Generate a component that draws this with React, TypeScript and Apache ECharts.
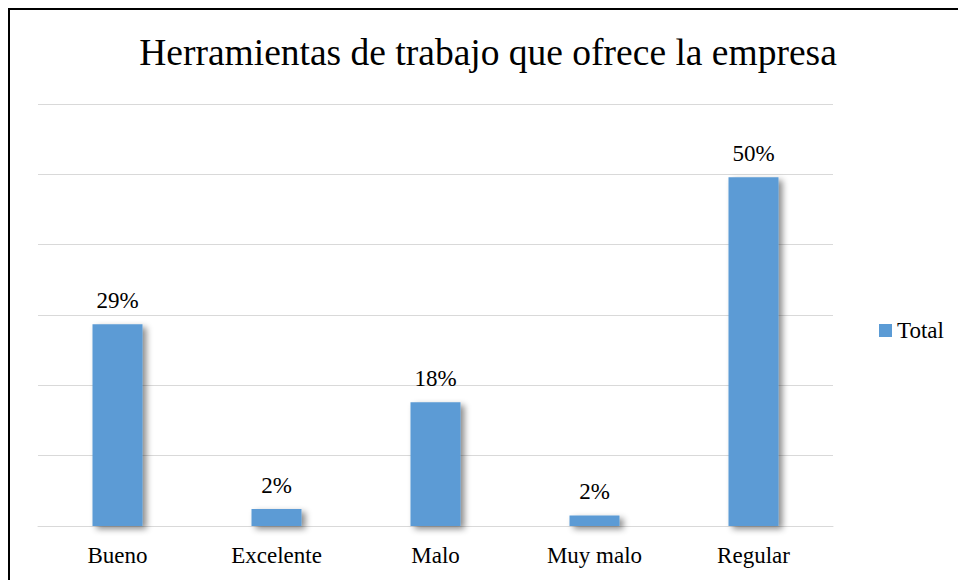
import React, { useEffect, useRef } from "react";
import * as echarts from "echarts";

const categories = ["Bueno", "Excelente", "Malo", "Muy malo", "Regular"];
const totalValues = [28.7, 2.4, 17.6, 1.5, 49.6];
const seriesName = "Total";
const titleText = "Herramientas de trabajo que ofrece la empresa";

const FONT = "Liberation Serif";

export default function App() {
  const ref = useRef<HTMLDivElement>(null);
  useEffect(() => {
    if (!ref.current) return;
    const chart = echarts.init(ref.current, null, { renderer: "svg" });
    chart.setOption({
      animation: false,
      backgroundColor: "transparent",
      textStyle: { fontFamily: FONT },
      graphic: [
        {
          type: "text",
          x: 488,
          y: 52,
          style: {
            text: titleText,
            fontFamily: FONT,
            fontSize: 37.5,
            fill: "#000",
            textAlign: "center",
            textVerticalAlign: "middle",
          },
        },
      ],
      legend: {
        data: [seriesName],
        left: 874,
        top: 314,
        icon: "rect",
        itemWidth: 13,
        itemHeight: 13,
        itemGap: 5,
        textStyle: { fontFamily: FONT, fontSize: 23, color: "#000" },
      },
      grid: { left: 38, right: 125, top: 104, bottom: 54, containLabel: false },
      xAxis: {
        type: "category",
        data: categories,
        axisLine: { lineStyle: { color: "#d9d9d9", width: 1 } },
        axisTick: { show: false },
        axisLabel: {
          fontFamily: FONT,
          fontSize: 23,
          color: "#000",
          margin: 18,
          interval: 0,
        },
      },
      yAxis: {
        type: "value",
        min: 0,
        max: 60,
        interval: 10,
        axisLabel: { show: false },
        axisLine: { show: false },
        axisTick: { show: false },
        splitLine: { lineStyle: { color: "#d9d9d9", width: 1 } },
      },
      series: [
        {
          name: seriesName,
          type: "bar",
          data: totalValues,
          barWidth: 50,
          itemStyle: {
            color: "#5b9bd5",
            shadowColor: "rgba(0,0,0,0.45)",
            shadowBlur: 6,
            shadowOffsetX: 4,
            shadowOffsetY: 3,
          },
          label: {
            show: true,
            position: "top",
            distance: 12,
            fontFamily: FONT,
            fontSize: 23,
            color: "#000",
            formatter: (p: any) => `${Math.round(p.value)}%`,
          },
        },
      ],
    });
    return () => chart.dispose();
  }, []);

  return (
    <div
      style={{
        position: "fixed",
        left: 0,
        top: 0,
        width: 958,
        height: 580,
        overflow: "hidden",
        background: "#fff",
      }}
    >
      <style>{`.serif-chart svg text { font-family: "Liberation Serif", "Times New Roman", serif !important; }`}</style>
      <div
        style={{
          position: "absolute",
          left: 8,
          top: 8,
          width: 1000,
          height: 1000,
          borderTop: "2px solid #000",
          borderLeft: "2px solid #000",
        }}
      />
      <div
        ref={ref}
        className="serif-chart"
        style={{ position: "absolute", left: 0, top: 0, width: 958, height: 580 }}
      />
    </div>
  );
}
